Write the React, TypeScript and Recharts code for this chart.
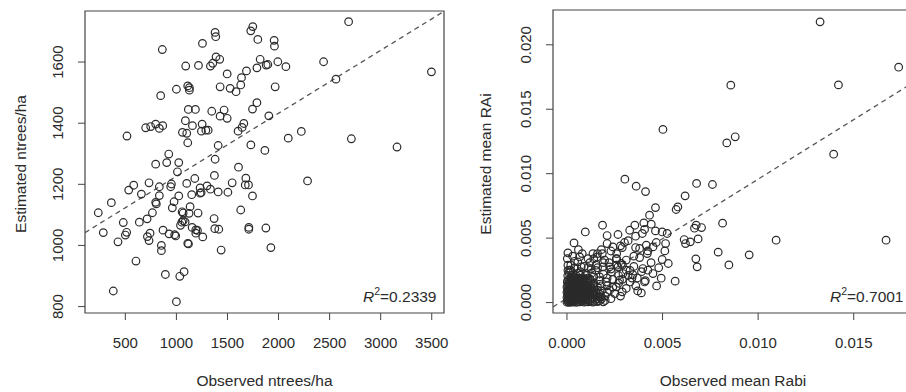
import { ScatterChart, Scatter, XAxis, YAxis, ReferenceLine, ReferenceArea } from 'recharts';

// left panel: observed vs estimated ntrees/ha
const ntreesPoints: [number, number][] = [
  [1748, 1716], [1728, 1702], [2686, 1732], [1379, 1697], [1385, 1683], [1255, 1661], [862, 1641], [1797, 1674],
  [1957, 1671], [1960, 1652], [1388, 1617], [1356, 1596], [1424, 1609], [1333, 1587], [1091, 1587], [1216, 1589],
  [1820, 1609], [1879, 1590], [1895, 1592], [1788, 1581], [1993, 1601], [2072, 1585], [2441, 1601], [3497, 1568],
  [1497, 1561], [1686, 1571], [1637, 1549], [1630, 1525], [1584, 1503], [1526, 1514], [1428, 1519], [1967, 1519],
  [2562, 1544], [1000, 1511], [1127, 1516], [1127, 1508], [1111, 1522], [846, 1490], [1117, 1445], [1186, 1445],
  [1346, 1439], [1467, 1443], [1497, 1416], [1428, 1423], [1788, 1467], [1745, 1446], [1905, 1424], [1660, 1399],
  [1643, 1386], [1604, 1374], [1252, 1397], [1245, 1374], [1288, 1377], [1311, 1377], [1157, 1392], [1088, 1408],
  [1059, 1370], [1101, 1367], [1111, 1336], [699, 1385], [748, 1389], [797, 1397], [833, 1383], [866, 1392],
  [516, 1358], [1409, 1327], [1729, 1329], [1866, 1311], [2095, 1351], [2223, 1373], [2713, 1349], [3160, 1322],
  [1379, 1282], [905, 1271], [925, 1299], [797, 1266], [1023, 1271], [1010, 1241], [1608, 1256], [1372, 1229],
  [1101, 1203], [1180, 1219], [1232, 1188], [1333, 1184], [1300, 1195], [1409, 1175], [1504, 1174], [1546, 1205],
  [1680, 1220], [1674, 1198], [1706, 1198], [1745, 1162], [2284, 1211], [1242, 1173], [582, 1197], [533, 1181],
  [657, 1168], [732, 1205], [951, 1201], [944, 1192], [833, 1192], [833, 1163], [797, 1141], [803, 1136],
  [1023, 1162], [363, 1140], [235, 1107], [284, 1042], [428, 1012], [500, 1034], [513, 1043], [480, 1075],
  [637, 1076], [604, 949], [382, 851], [716, 1029], [732, 1016], [742, 1040], [713, 1087], [765, 1107],
  [869, 1050], [853, 1000], [853, 983], [892, 905], [928, 1038], [983, 1035], [993, 1031], [960, 1123],
  [977, 1143], [1056, 1110], [1066, 1081], [1085, 1077], [1066, 1106], [1040, 1066], [1053, 1076], [1111, 1007],
  [1118, 1005], [1134, 1127], [1124, 1105], [1154, 1059], [1190, 1051], [1206, 1049], [1190, 1040], [1212, 1106],
  [1258, 1028], [1150, 1166], [1369, 1088], [1376, 1055], [1415, 1053], [1438, 985], [1630, 1116], [1709, 1059],
  [1709, 1053], [1876, 1057], [1925, 993], [1033, 899], [1075, 914], [1000, 816], [1232, 1171],
];

// right panel: scattered points
const rabiSpread: [number, number][] = [
  [0.01324, 0.02178], [0.01735, 0.01826], [0.00857, 0.01687], [0.0142, 0.01689], [0.00502, 0.01343], [0.00836, 0.01239],
  [0.0088, 0.01286], [0.01395, 0.01151], [0.00303, 0.00957], [0.00362, 0.00903], [0.00411, 0.00861], [0.00678, 0.00924],
  [0.00761, 0.00916], [0.00618, 0.00828], [0.00463, 0.00737], [0.00571, 0.00722], [0.0058, 0.00742], [0.00432, 0.00678],
  [0.00186, 0.006], [0.00096, 0.00548], [0.00037, 0.00463], [0.00355, 0.006], [0.00402, 0.00618], [0.00441, 0.00608],
  [0.00406, 0.00567], [0.00463, 0.00556], [0.00498, 0.00548], [0.00524, 0.00536], [0.00328, 0.00561], [0.00267, 0.00528],
  [0.0021, 0.0052], [0.00359, 0.00515], [0.00394, 0.00536], [0.00667, 0.00577], [0.00704, 0.00582], [0.00676, 0.006],
  [0.00814, 0.00616], [0.00613, 0.00489], [0.0062, 0.00458], [0.00645, 0.00471], [0.00686, 0.00494], [0.00516, 0.00458],
  [0.00512, 0.00401], [0.00467, 0.00466], [0.0045, 0.00432], [0.00423, 0.00401], [0.00359, 0.00427], [0.00415, 0.00445],
  [0.01094, 0.00484], [0.01669, 0.00484], [0.00953, 0.0037], [0.00791, 0.00391], [0.00674, 0.00339], [0.00681, 0.00277],
  [0.00847, 0.00292], [0.00498, 0.00334], [0.0053, 0.00303], [0.00493, 0.00189], [0.00566, 0.00166], [0.00469, 0.00129],
  [0.00389, 0.00075], [0.00406, 0.0016], [0.0038, 0.00349], [0.00397, 0.00264], [0.00423, 0.00251], [0.0045, 0.00225],
  [0.00345, 0.00217], [0.00368, 0.00191], [0.0031, 0.00251], [0.00301, 0.00466], [0.00289, 0.00427], [0.0024, 0.00432],
  [0.0021, 0.00458], [0.00185, 0.0038], [0.00157, 0.00354], [0.00136, 0.0038], [0.0011, 0.00341], [0.00066, 0.00354],
  [0.00057, 0.00316], [0.00005, 0.00385], [0.00002, 0.00341], [0.00005, 0.0029], [0.00258, 0.00341], [0.00284, 0.00303],
  [0.00267, 0.00277], [0.00223, 0.00277], [0.00188, 0.00277], [0.00153, 0.0029], [0.00293, 0.00225], [0.00275, 0.00173],
  [0.00289, 0.00083], [0.00258, 0.00122], [0.00223, 0.00096], [0.00179, 0.00044], [0.00153, 0.0007], [0.00206, 0.0016],
  [0.00171, 0.00199], [0.00136, 0.00147], [0.00232, 0.00238], [0.00197, 0.00329], [0.00127, 0.00264], [0.00101, 0.00225],
  [0.00075, 0.00277], [0.00092, 0.00186], [0.00057, 0.0016], [0.00031, 0.00199], [0.00014, 0.00251],
  [0.0016, 0.0012], [0.0018, 0.0009], [0.0021, 0.0013], [0.0024, 0.0018], [0.0027, 0.0021], [0.0019, 0.0022],
  [0.0015, 0.0025], [0.0012, 0.0031], [0.0022, 0.0031], [0.0026, 0.0034], [0.0029, 0.0029], [0.0033, 0.0025],
  [0.0034, 0.0019], [0.0036, 0.0013], [0.0031, 0.0011], [0.0025, 0.0007], [0.002, 0.0005], [0.0017, 0.0017],
  [0.0014, 0.002], [0.0009, 0.0028], [0.0004, 0.0032], [0.0003, 0.0036], [0.0008, 0.0038], [0.0018, 0.0041],
  [0.0023, 0.004], [0.0028, 0.0044], [0.0032, 0.0048], [0.0038, 0.0042], [0.0042, 0.0038], [0.0044, 0.0031],
  [0.0048, 0.0027],
  [0.0013, 0.0023], [0.0016, 0.0027], [0.0011, 0.0019], [0.0018, 0.0013], [0.0021, 0.0019], [0.0023, 0.0026],
  [0.0019, 0.0031], [0.0014, 0.0034], [0.0011, 0.0027], [0.0024, 0.0012], [0.0027, 0.0015], [0.0029, 0.0018],
  [0.0021, 0.0008], [0.0026, 0.0029], [0.0031, 0.0033], [0.0035, 0.0036], [0.0032, 0.0021], [0.0035, 0.0028],
  [0.0039, 0.0024], [0.0041, 0.0017], [0.0033, 0.0016], [0.0037, 0.0009], [0.0028, 0.0005], [0.0023, 0.0003],
  [0.0026, 0.0038], [0.0016, 0.0038], [0.0006, 0.0041], [0.0002, 0.0029], [0.0007, 0.0024], [0.0004, 0.0027],
];

// right panel: the dense cluster near the origin
const rabiCore: [number, number][] = [
  [0, 0.00003], [0.0001, 0.00002], [0.0002, 0.00004], [0.00032, 0.00003], [0.0005, 0.00002], [0.00068, 0.00005],
  [0.0009, 0.00003], [0.0011, 0.00006], [0.00135, 0.00004], [0.0016, 0.00008], [0.0019, 0.00005],
  [0.00005, 0.0001], [0.00015, 0.00011], [0.00026, 0.00009], [0.0004, 0.00012], [0.00058, 0.0001], [0.00078, 0.00011],
  [0.001, 0.00009], [0.00122, 0.00012], [0.00145, 0.0001], [0.0017, 0.00013], [0.002, 0.00016],
  [0.00005, 0.0002], [0.00018, 0.00021], [0.0003, 0.00018], [0.00045, 0.00022], [0.0006, 0.0002], [0.0008, 0.00019],
  [0.001, 0.00023], [0.0012, 0.0002], [0.0015, 0.00024], [0.0018, 0.00027],
  [0.0001, 0.0003], [0.00024, 0.00031], [0.00038, 0.00029], [0.00052, 0.00032], [0.0007, 0.0003], [0.0009, 0.00031],
  [0.0011, 0.00029], [0.0013, 0.00032], [0.0016, 0.0003],
  [0, 0.0004], [0.00012, 0.00041], [0.00026, 0.00038], [0.0004, 0.00042], [0.00056, 0.0004], [0.00072, 0.00043],
  [0.0009, 0.00039], [0.0011, 0.00042], [0.0013, 0.0004], [0.0017, 0.00045],
  [0.00008, 0.0005], [0.00022, 0.00051], [0.00036, 0.00049], [0.00048, 0.00052], [0.00064, 0.0005], [0.0008, 0.00051],
  [0.001, 0.00049], [0.0012, 0.00052], [0.0015, 0.0005],
  [0.00004, 0.0006], [0.0002, 0.00062], [0.00035, 0.00059], [0.0005, 0.00061], [0.00066, 0.00058], [0.00085, 0.00062],
  [0.00105, 0.0006], [0.0014, 0.00063], [0.0017, 0.00066],
  [0.0001, 0.0007], [0.00026, 0.00071], [0.0004, 0.00069], [0.00056, 0.00072], [0.00074, 0.0007], [0.00094, 0.00071],
  [0.0012, 0.00069], [0.0013, 0.00073],
  [0, 0.0008], [0.00014, 0.00082], [0.0003, 0.00079], [0.00046, 0.00081], [0.00062, 0.00083], [0.0008, 0.0008],
  [0.001, 0.00082], [0.00122, 0.00079], [0.0015, 0.00085],
  [0.00004, 0.0009], [0.0002, 0.00091], [0.00036, 0.00089], [0.00054, 0.00092], [0.0007, 0.0009], [0.0009, 0.00091],
  [0.0011, 0.00089], [0.0014, 0.00093], [0.0016, 0.00097],
  [0.00006, 0.001], [0.0002, 0.00102], [0.00038, 0.00099], [0.00055, 0.00101], [0.00074, 0.00103], [0.00094, 0.001],
  [0.0012, 0.00104],
  [0.00012, 0.0011], [0.00028, 0.00111], [0.00046, 0.00109], [0.00064, 0.00112], [0.00084, 0.0011], [0.00105, 0.00111],
  [0.0013, 0.00109],
  [0, 0.0012], [0.00016, 0.00121], [0.00032, 0.00119], [0.0005, 0.00122], [0.0007, 0.0012], [0.0009, 0.00123],
  [0.0011, 0.00119], [0.0014, 0.00125],
  [0.00004, 0.0013], [0.0002, 0.00131], [0.0004, 0.00129], [0.0006, 0.00132], [0.0008, 0.0013], [0.001, 0.00131],
  [0.0012, 0.00129],
  [0.00008, 0.0014], [0.00024, 0.00142], [0.00042, 0.00139], [0.0006, 0.00141], [0.0008, 0.00143], [0.001, 0.0014],
  [0.0001, 0.0015], [0.0003, 0.00151], [0.0005, 0.00149], [0.0007, 0.00152], [0.0009, 0.0015], [0.0011, 0.00151],
  [0.0014, 0.00154],
  [0.00002, 0.0016], [0.00018, 0.00162], [0.00036, 0.00159], [0.00055, 0.00161], [0.00075, 0.00163], [0.00098, 0.0016],
  [0.00125, 0.00165],
  [0.00004, 0.0017], [0.0002, 0.00171], [0.0004, 0.00169], [0.0006, 0.00172], [0.0008, 0.0017], [0.001, 0.00171],
  [0.0001, 0.0018], [0.0003, 0.00182], [0.0005, 0.00179], [0.0007, 0.00183], [0.0009, 0.0018], [0.0012, 0.00184],
  [0.0002, 0.0019], [0.0004, 0.00191], [0.0006, 0.00189], [0.0008, 0.00192],
  [0.00004, 0.0021], [0.00025, 0.00212], [0.00048, 0.00209], [0.0007, 0.00213], [0.001, 0.0021],
  [0.0001, 0.0023], [0.0003, 0.00231], [0.0006, 0.00229],
  [0.00005, 0.0025], [0.0002, 0.00252],
];

const leftXTicks = [500, 1000, 1500, 2000, 2500, 3000, 3500];
const leftYTicks = [800, 1000, 1200, 1400, 1600];
const rightXTicks = [0, 0.005, 0.01, 0.015];
const rightYTicks = [0, 0.005, 0.01, 0.015, 0.02];

const leftFit = [{ x: 105, y: 1042 }, { x: 3620, y: 1766 }];
const rightFit = [{ x: -0.00073, y: -0.00034 }, { x: 0.0181, y: 0.01706 }];

const leftData = ntreesPoints.map(([x, y]) => ({ x, y }));
const rightData = [...rabiCore, ...rabiSpread].map(([x, y]) => ({ x, y }));

const FONT = '"Liberation Sans", Arial, sans-serif';
const INK = '#2b2b2b';

const Ring = (props: any) => (
  <circle cx={props.cx} cy={props.cy} r={3.8} fill="none" stroke={INK} strokeWidth={1.2} />
);

const makeXTick = (digits: number) => (props: any) => {
  const { x, y, payload } = props;
  return (
    <text x={x} y={y + 26} textAnchor="middle" fontSize={15} fill={INK} fontFamily={FONT}>
      {digits ? payload.value.toFixed(digits) : payload.value}
    </text>
  );
};

const makeYTick = (digits: number) => (props: any) => {
  const { x, y, payload } = props;
  const bx = x - 13;
  return (
    <text x={bx} y={y} transform={`rotate(-90 ${bx} ${y})`} textAnchor="middle" fontSize={15} fill={INK} fontFamily={FONT}>
      {digits ? payload.value.toFixed(digits) : payload.value}
    </text>
  );
};

export default function App() {
  return (
    <div style={{ position: 'fixed', left: 0, top: 0, width: 906, height: 392, overflow: 'hidden', background: '#fff' }}>
      <div style={{ position: 'absolute', left: 0, top: 0 }}>
        <ScatterChart width={453} height={392} margin={{ top: 11, right: 9, bottom: 0, left: 0 }}>
          <XAxis type="number" dataKey="x" domain={[105, 3620]} allowDataOverflow ticks={leftXTicks}
            axisLine={false} tickSize={7} tickLine={{ stroke: '#444' }} height={79} tick={makeXTick(0)} interval={0} />
          <YAxis type="number" dataKey="y" domain={[779, 1767]} allowDataOverflow ticks={leftYTicks}
            axisLine={false} tickSize={7} tickLine={{ stroke: '#444' }} width={85} tick={makeYTick(0)} interval={0} />
          <ReferenceArea x1={105} x2={3620} y1={779} y2={1767} fill="none" stroke="#444" strokeWidth={1.2} />
          <ReferenceLine segment={leftFit} stroke="#555" strokeWidth={1.3} strokeDasharray="5 4" />
          <Scatter data={leftData} shape={Ring} isAnimationActive={false} />
        </ScatterChart>
      </div>
      <div style={{ position: 'absolute', left: 453, top: 0 }}>
        <ScatterChart width={460} height={392} margin={{ top: 10, right: 0, bottom: 0, left: 0 }}>
          <XAxis type="number" dataKey="x" domain={[-0.00073, 0.0181]} allowDataOverflow ticks={rightXTicks}
            axisLine={false} tickSize={7} tickLine={{ stroke: '#444' }} height={79} tick={makeXTick(3)} interval={0} />
          <YAxis type="number" dataKey="y" domain={[-0.00081, 0.0227]} allowDataOverflow ticks={rightYTicks}
            axisLine={false} tickSize={7} tickLine={{ stroke: '#444' }} width={100} tick={makeYTick(3)} interval={0} />
          <ReferenceArea x1={-0.00073} x2={0.0181} y1={-0.00081} y2={0.0227} fill="none" stroke="#444" strokeWidth={1.2} />
          <ReferenceLine segment={rightFit} stroke="#555" strokeWidth={1.3} strokeDasharray="5 4" />
          <Scatter data={rightData} shape={Ring} isAnimationActive={false} />
        </ScatterChart>
      </div>
      <svg width={906} height={392} style={{ position: 'absolute', left: 0, top: 0, pointerEvents: 'none' }} fontFamily={FONT} fill={INK}>
        <text x={264.5} y={386} textAnchor="middle" fontSize={15.5}>Observed ntrees/ha</text>
        <text x={25.5} y={164} textAnchor="middle" fontSize={15.5} transform="rotate(-90 25.5 164)">Estimated ntrees/ha</text>
        <text x={436.5} y={302} textAnchor="end" fontSize={15.5}>
          <tspan fontStyle="italic">R</tspan><tspan fontSize={10.5} dy={-7}>2</tspan><tspan dy={7}>=0.2339</tspan>
        </text>
        <text x={733} y={386} textAnchor="middle" fontSize={15.5}>Observed mean Rabi</text>
        <text x={491} y={164} textAnchor="middle" fontSize={15.5} transform="rotate(-90 491 164)">Estimated mean RAi</text>
        <text x={903.5} y={302} textAnchor="end" fontSize={15.5}>
          <tspan fontStyle="italic">R</tspan><tspan fontSize={10.5} dy={-7}>2</tspan><tspan dy={7}>=0.7001</tspan>
        </text>
      </svg>
    </div>
  );
}
